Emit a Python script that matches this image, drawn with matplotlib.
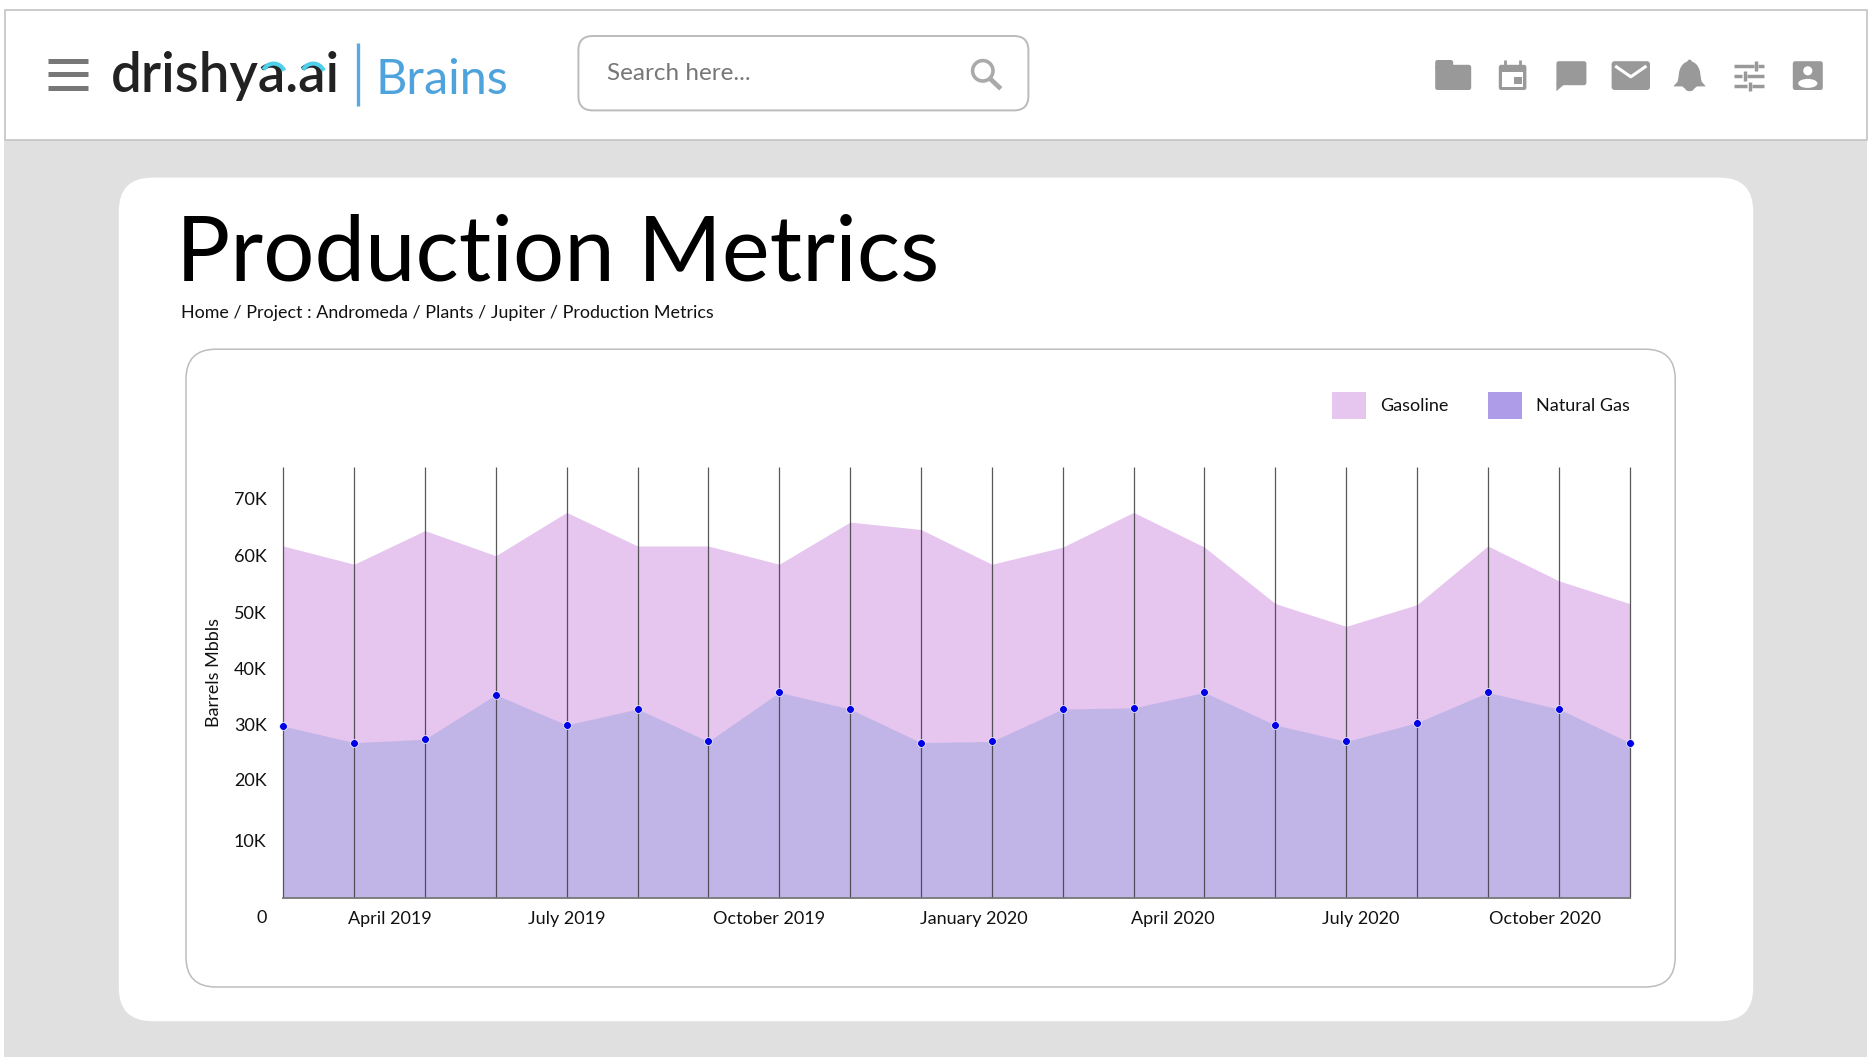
import matplotlib
matplotlib.use('Agg')
import matplotlib.pyplot as plt
from matplotlib.patches import FancyBboxPatch, Rectangle, Polygon, Circle, Ellipse, Patch, Arc
import numpy as np

plt.rcParams['font.family'] = ['Lato', 'DejaVu Sans']

# chart data, thousands of barrels
gasoline = [61.7, 58.5, 64.4, 60.0, 67.6, 61.7, 61.7, 58.5, 65.9, 64.6,
            58.5, 61.5, 67.6, 61.5, 51.6, 47.6, 51.4, 61.7, 55.6, 51.6]
natural_gas = [30.1, 27.2, 27.8, 35.6, 30.3, 33.1, 27.4, 36.0, 33.1, 27.2,
               27.4, 33.1, 33.3, 36.0, 30.3, 27.4, 30.7, 36.0, 33.1, 27.2]
y_labels = ['10K', '20K', '30K', '40K', '50K', '60K', '70K']
x_labels = ['April 2019', 'July 2019', 'October 2019', 'January 2020',
            'April 2020', 'July 2020', 'October 2020']
series_names = ['Gasoline', 'Natural Gas']
breadcrumb = 'Home / Project : Andromeda / Plants / Jupiter / Production Metrics'

# where the mockup put its axis labels
y_label_pos = [10.1, 20.8, 30.3, 40.2, 50.1, 60.0, 70.0]
x_label_pos = [1.51, 4.0, 6.85, 9.75, 12.55, 15.2, 17.8]

GAS_COLOR = '#E6C5EF'
OVERLAP_COLOR = '#C1B5E8'
NAT_COLOR = '#AE9CE8'
ICON = '#999999'

W, H = 1560, 883.33
fig = plt.figure(figsize=(18.72, 10.6), dpi=100, facecolor='white')

# page drawn in screen coordinates of the mockup
bg = fig.add_axes([0, 0, 1, 1])
bg.set_xlim(0, W)
bg.set_ylim(H, 0)
bg.axis('off')


def box(x0, y0, x1, y1, r=0, fc='white', ec='none', lw=1, z=1):
    p = FancyBboxPatch((x0, y0), x1 - x0, y1 - y0, boxstyle=f'round,pad=0,rounding_size={r}',
                       fc=fc, ec=ec, lw=lw, zorder=z)
    bg.add_patch(p)
    return p


def seg(xs, ys, color=ICON, lw=2.5, z=3, cap='butt'):
    bg.plot(xs, ys, color=color, lw=lw, zorder=z, solid_capstyle=cap)


# background and header
bg.add_patch(Rectangle((3.5, 117), 1552.5, 763.5, fc='#E0E0E0', ec='none', zorder=0))
bg.add_patch(Rectangle((4, 8), 1552, 109, fc='white', ec='#C4C4C4', lw=1.2, zorder=1))
box(99, 148, 1461, 851, r=28, z=1)
box(155, 291, 1396, 822.5, r=25, ec='#BDBDBD', lw=1.1, z=2)

# hamburger
for yy in (51, 62, 73):
    seg([40, 73], [yy, yy], color='#777777', lw=3.6)

# logo
bg.text(92.5, 77, 'drishya.ai', fontsize=39.3, fontweight='semibold', color='#222222', va='baseline', zorder=3)
bg.add_patch(Arc((228, 64), 20, 22, theta1=215, theta2=330, color='#4FD0EA', lw=3, zorder=4))
bg.add_patch(Arc((261, 64), 20, 22, theta1=215, theta2=330, color='#4FD0EA', lw=3, zorder=4))
seg([298.5, 298.5], [36, 88], color='#5AA9E0', lw=2.4)
bg.text(312.5, 78, 'Brains', fontsize=35, color='#4FA3DC', va='baseline', zorder=3)

# search box
box(482, 30, 857, 92, r=12, ec='#BBBBBB', lw=1.4, z=2)
bg.text(506, 61.5, 'Search here...', fontsize=17.5, color='#777777', va='center', zorder=3)
bg.add_patch(Circle((819, 59), 8.5, fc='none', ec='#AAAAAA', lw=2.6, zorder=3))
seg([825, 834], [65.5, 74], color='#AAAAAA', lw=3.4)

# folder
box(1196, 54, 1226, 75, r=2, fc=ICON, z=3)
box(1196, 50, 1211, 58, r=2, fc=ICON, z=3)
# calendar
box(1249, 54, 1272, 75, r=2, fc=ICON, z=3)
bg.add_patch(Rectangle((1251.5, 60), 18, 12.5, fc='white', ec='none', zorder=4))
bg.add_patch(Rectangle((1262, 64), 6, 6, fc=ICON, ec='none', zorder=5))
seg([1254.5, 1254.5], [50, 55], lw=2)
seg([1266.5, 1266.5], [50, 55], lw=2)
# chat
box(1297, 51, 1322, 71, r=2, fc=ICON, z=3)
bg.add_patch(Polygon([(1297, 69), (1297, 76), (1305, 69)], fc=ICON, ec='none', zorder=3))
# mail
box(1343, 51, 1375, 75, r=2.5, fc=ICON, z=3)
seg([1346, 1359, 1372], [55, 64, 55], color='white', lw=2.2, z=4)
# bell
bg.add_patch(Ellipse((1408, 63), 18, 24, fc=ICON, ec='none', zorder=3))
bg.add_patch(Polygon([(1399, 63), (1417, 63), (1418, 68), (1421.5, 72), (1394.5, 72), (1398, 68)],
                     fc=ICON, ec='none', zorder=3))
bg.add_patch(Circle((1408, 51.5), 1.8, fc=ICON, ec='none', zorder=3))
bg.add_patch(Ellipse((1408, 74), 7, 4, fc=ICON, ec='none', zorder=3))
# sliders
for yy, xa, xb in ((55, 1462, 1465), (63.5, 1452, 1456), (72, 1456, 1460)):
    seg([1445, xa], [yy, yy])
    seg([xb, 1470], [yy, yy])
    seg([(xa + xb) / 2, (xa + xb) / 2], [yy - 4, yy + 4])
# profile
box(1494, 51, 1519, 75, r=2, fc=ICON, z=3)
bg.add_patch(Circle((1506.5, 59), 3.8, fc='white', ec='none', zorder=4))
bg.add_patch(Ellipse((1506.5, 69.5), 16, 7.5, fc='white', ec='none', zorder=4))

# title block
bg.text(147, 234, 'Production Metrics', fontsize=65.2, color='#000000', va='baseline', zorder=3)
bg.text(151, 261, breadcrumb, fontsize=12.9, color='#111111', va='center', zorder=3)

# chart
ax = fig.add_axes([236 / W, 1 - 748 / H, (1358 - 236) / W, (748 - 389) / H])
ax.patch.set_alpha(0)
x = np.arange(len(gasoline))
ax.fill_between(x, 0, gasoline, color=GAS_COLOR, lw=0, zorder=1)
ax.fill_between(x, 0, natural_gas, color=OVERLAP_COLOR, lw=0, zorder=2)
ax.vlines(x, 0, 75.6, color='#3C3C3C', lw=0.9, alpha=0.85, zorder=3, clip_on=False)
ax.plot(x, natural_gas, ls='none', marker='o', ms=5.6, mfc='#0000E6', mec='white', mew=0.5,
        clip_on=False, zorder=4)

ax.set_xticks(x_label_pos, x_labels)
ax.set_yticks(y_label_pos, y_labels)
ax.set_xlim(0, len(gasoline) - 1)
ax.set_ylim(0, 75.6)
ax.tick_params(axis='both', length=0, labelsize=13, labelcolor='#111111')
ax.tick_params(axis='x', pad=10)
ax.tick_params(axis='y', pad=12)
# the 0 label sits below the axis floor in the mockup, a tick there would be dropped
ax.annotate('0', xy=(0, 0), xytext=(-12, -14.5), textcoords='offset points', ha='right',
            va='center', fontsize=13, color='#111111', annotation_clip=False)
for s in ('top', 'right', 'left'):
    ax.spines[s].set_visible(False)
ax.spines['bottom'].set_color('#777777')
ax.spines['bottom'].set_linewidth(1.3)
ax.spines['bottom'].set_zorder(5)
ax.set_ylabel('Barrels Mbbls', fontsize=13, color='#111111', labelpad=8.5, y=0.522)

handles = [Patch(fc=GAS_COLOR, ec='none'), Patch(fc=NAT_COLOR, ec='none')]
ax.legend(handles, series_names, ncols=2, frameon=False, fontsize=13, loc='lower right',
          bbox_to_anchor=(1, 1.111), borderaxespad=0, borderpad=0, handlelength=1.9,
          handleheight=1.9, handletextpad=0.75, columnspacing=2.2, labelcolor='#111111')

fig.savefig('out.png', dpi=100)
